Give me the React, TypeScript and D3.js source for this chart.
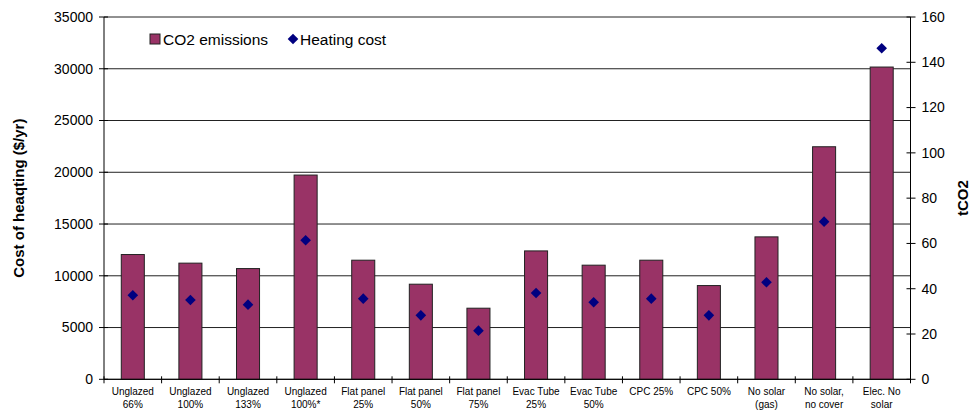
import React from "react";
import * as d3 from "d3";

// Category labels (two lines each)
const categories: string[][] = [
  ["Unglazed", "66%"],
  ["Unglazed", "100%"],
  ["Unglazed", "133%"],
  ["Unglazed", "100%*"],
  ["Flat panel", "25%"],
  ["Flat panel", "50%"],
  ["Flat panel", "75%"],
  ["Evac Tube", "25%"],
  ["Evac Tube", "50%"],
  ["CPC 25%", ""],
  ["CPC 50%", ""],
  ["No solar", "(gas)"],
  ["No solar,", "no cover"],
  ["Elec. No", "solar"],
];

// tCO2 per option (right axis)
const co2Emissions: number[] = [
  55.1, 51.3, 48.9, 90.2, 52.6, 42.0, 31.4, 56.7, 50.4, 52.6, 41.4, 62.9, 102.7, 137.9,
];

// Heating cost $/yr (left axis)
const heatingCost: number[] = [
  8115, 7660, 7210, 13430, 7790, 6180, 4700, 8340, 7440, 7790, 6180, 9370, 15230, 31980,
];

const leftTicks: number[] = [0, 5000, 10000, 15000, 20000, 25000, 30000, 35000];
const rightTicks: number[] = [0, 20, 40, 60, 80, 100, 120, 140, 160];

const W = 980;
const H = 414;
const plot = { left: 104, right: 910.5, top: 17, bottom: 379.3 };
const FONT = "'Liberation Sans', Arial, sans-serif";
const BAR_FILL = "#993366";
const DIAMOND = "#000080";

export default function App() {
  const x = d3
    .scaleBand<number>()
    .domain(categories.map((_, i) => i))
    .range([plot.left, plot.right])
    .padding(0);
  const yLeft = d3.scaleLinear().domain([0, 35000]).range([plot.bottom, plot.top]);
  const yRight = d3.scaleLinear().domain([0, 160]).range([plot.bottom, plot.top]);
  const bw = x.bandwidth();
  const barW = bw * 0.4;
  const diamond = d3.symbol().type(d3.symbolDiamond2).size(72)();
  const boundaries = d3.range(categories.length + 1).map((i) => plot.left + i * bw);
  const midY = (plot.top + plot.bottom) / 2;

  return (
    <svg
      width={W}
      height={H}
      style={{ position: "absolute", left: 0, top: 0, fontFamily: FONT }}
    >
      <rect x={0} y={0} width={W} height={H} fill="#fff" />

      {/* horizontal gridlines */}
      {leftTicks.map((t) => (
        <line
          key={"g" + t}
          x1={plot.left}
          x2={plot.right}
          y1={yLeft(t)}
          y2={yLeft(t)}
          stroke="#222"
          strokeWidth={1}
        />
      ))}

      {/* bars: CO2 emissions */}
      {co2Emissions.map((v, i) => (
        <rect
          key={"b" + i}
          x={(x(i) as number) + (bw - barW) / 2}
          y={yRight(v)}
          width={barW}
          height={yRight(0) - yRight(v)}
          fill={BAR_FILL}
          stroke="#222"
          strokeWidth={1}
        />
      ))}

      {/* diamonds: heating cost */}
      {heatingCost.map((v, i) => (
        <path
          key={"d" + i}
          d={diamond as string}
          transform={`translate(${(x(i) as number) + bw / 2},${yLeft(v)})`}
          fill={DIAMOND}
        />
      ))}

      {/* axes lines */}
      <line x1={plot.left} x2={plot.left} y1={plot.top} y2={plot.bottom} stroke="#000" />
      <line x1={plot.right} x2={plot.right} y1={plot.top} y2={plot.bottom} stroke="#000" />
      <line x1={plot.left} x2={plot.right} y1={plot.bottom} y2={plot.bottom} stroke="#000" />

      {/* left axis ticks + labels */}
      {leftTicks.map((t) => (
        <g key={"l" + t}>
          <line x1={plot.left - 5} x2={plot.left + 4} y1={yLeft(t)} y2={yLeft(t)} stroke="#000" />
          <text
            x={plot.left - 11}
            y={yLeft(t)}
            dy="0.35em"
            textAnchor="end"
            fontSize={14}
            fill="#000"
          >
            {t}
          </text>
        </g>
      ))}

      {/* right axis ticks + labels */}
      {rightTicks.map((t) => (
        <g key={"r" + t}>
          <line x1={plot.right - 4} x2={plot.right + 5} y1={yRight(t)} y2={yRight(t)} stroke="#000" />
          <text
            x={plot.right + 11}
            y={yRight(t)}
            dy="0.35em"
            textAnchor="start"
            fontSize={14}
            fill="#000"
          >
            {t}
          </text>
        </g>
      ))}

      {/* category boundary ticks */}
      {boundaries.map((bx, i) => (
        <line
          key={"t" + i}
          x1={bx}
          x2={bx}
          y1={plot.bottom - 3}
          y2={plot.bottom + 4}
          stroke="#000"
        />
      ))}

      {/* category labels */}
      {categories.map((lines, i) => (
        <text
          key={"c" + i}
          x={(x(i) as number) + bw / 2}
          y={395}
          textAnchor="middle"
          fontSize={10}
          fill="#000"
        >
          <tspan x={(x(i) as number) + bw / 2} dy={0}>
            {lines[0]}
          </tspan>
          {lines[1] && (
            <tspan x={(x(i) as number) + bw / 2} dy={13}>
              {lines[1]}
            </tspan>
          )}
        </text>
      ))}

      {/* axis titles */}
      <text
        transform={`translate(24,${midY}) rotate(-90)`}
        textAnchor="middle"
        fontSize={15}
        fontWeight="bold"
        fill="#000"
      >
        Cost of heaqting ($/yr)
      </text>
      <text
        transform={`translate(968,${midY}) rotate(-90)`}
        textAnchor="middle"
        fontSize={15}
        fontWeight="bold"
        fill="#000"
      >
        tCO2
      </text>

      {/* legend */}
      <rect x={150} y={34} width={10} height={10} fill={BAR_FILL} stroke="#222" />
      <text x={163} y={44.5} fontSize={15.5} fill="#000">
        CO2 emissions
      </text>
      <path d={diamond as string} transform="translate(293,39)" fill={DIAMOND} />
      <text x={300} y={44.5} fontSize={15.5} fill="#000">
        Heating cost
      </text>
    </svg>
  );
}
